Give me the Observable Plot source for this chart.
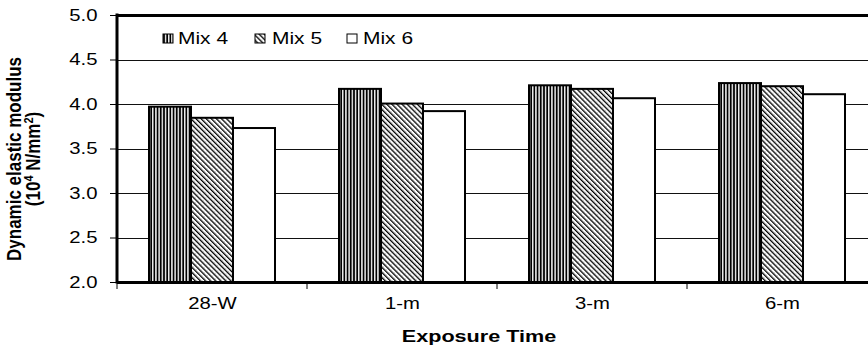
<!DOCTYPE html>
<html>
<head>
<meta charset="utf-8">
<script src="https://cdn.jsdelivr.net/npm/d3@7"></script>
<script src="https://cdn.jsdelivr.net/npm/@observablehq/plot@0.6"></script>
<style>
  html, body { margin: 0; padding: 0; background: #fff; }
  #chart { width: 868px; height: 348px; overflow: hidden; }
</style>
</head>
<body>
<div id="chart"></div>
<script>
// ---- data ----
const times = ["28-W", "1-m", "3-m", "6-m"];
const mixes = ["Mix 4", "Mix 5", "Mix 6"];
const mix4 = [3.97, 4.17, 4.21, 4.235];
const mix5 = [3.845, 4.005, 4.17, 4.2];
const mix6 = [3.73, 3.92, 4.065, 4.11];
const yTicks = [2.0, 2.5, 3.0, 3.5, 4.0, 4.5, 5.0];
const yGrid = [2.5, 3.0, 3.5, 4.0, 4.5];
const yBase = 2.0;
const yTop = 5.0;
const xTitle = "Exposure Time";
const yTitleLine1 = "Dynamic elastic modulus";
const yTitleLine2 = ["(10", "4", " N/mm", "2", ")"];

const series = [mix4, mix5, mix6];
const rows = [];
times.forEach((t, i) => mixes.forEach((m, j) => rows.push({time: t, mix: m, value: series[j][i]})));

const STRETCH = 1.27;
const FONT = "'Liberation Sans', Arial, sans-serif";

const chart = Plot.plot({
  width: 868,
  height: 348,
  marginLeft: 117,
  marginRight: -9,
  marginTop: 15,
  marginBottom: 66,
  style: {fontFamily: FONT, fontSize: "16px", color: "#000", background: "#fff", overflow: "visible"},
  facet: {data: rows, x: "time"},
  fx: {domain: times, padding: 0, axis: "bottom", tickSize: 0, tickPadding: 15, label: null},
  x: {domain: mixes, paddingInner: 0, paddingOuter: 0.744, axis: null},
  y: {domain: [yBase, yTop], ticks: yTicks, tickFormat: d => d.toFixed(1), tickSize: 7, tickPadding: 13, label: null},
  color: {domain: mixes, range: ["url(#pMix4)", "url(#pMix5)", "url(#pMix6)"]},
  marks: [
    Plot.ruleY(yGrid, {stroke: "#111", strokeWidth: 1, shapeRendering: "crispEdges"}),
    Plot.barY(rows, {x: "mix", y1: yBase, y2: "value", fill: "mix", stroke: "#000", strokeWidth: 2}),
    Plot.ruleY([yTop], {stroke: "#000", strokeWidth: 3}),
    Plot.ruleY([yBase], {stroke: "#000", strokeWidth: 3})
  ]
});

const svg = d3.select(chart.tagName.toLowerCase() === "svg" ? chart : chart.querySelector("svg"));

// stretch existing texts horizontally (reference text is horizontally widened)
svg.selectAll("text").each(function() {
  const x = +this.getAttribute("x") || 0;
  const t = this.getAttribute("transform") || "";
  this.setAttribute("transform", `${t} translate(${x},0) scale(${STRETCH},1) translate(${-x},0)`);
  this.setAttribute("fill", "#000");
});

// patterns
const defs = svg.insert("defs", ":first-child");
const p4 = defs.append("pattern").attr("id", "pMix4").attr("patternUnits", "userSpaceOnUse")
  .attr("width", 3.2).attr("height", 4);
p4.append("rect").attr("width", 3.2).attr("height", 4).attr("fill", "#fff");
p4.append("rect").attr("x", 0).attr("width", 1.6).attr("height", 4).attr("fill", "#000");
p4.append("rect").attr("x", 2.3).attr("width", 0.5).attr("height", 4).attr("fill", "#888");
const p5 = defs.append("pattern").attr("id", "pMix5").attr("patternUnits", "userSpaceOnUse")
  .attr("width", 3.6).attr("height", 4).attr("patternTransform", "rotate(-45)");
p5.append("rect").attr("width", 3.6).attr("height", 4).attr("fill", "#fff");
p5.append("rect").attr("x", 0).attr("width", 1.3).attr("height", 4).attr("fill", "#000");
p5.append("rect").attr("x", 2.2).attr("y", 1).attr("width", 0.6).attr("height", 0.6).attr("fill", "#888");
const p6 = defs.append("pattern").attr("id", "pMix6").attr("patternUnits", "userSpaceOnUse")
  .attr("width", 4).attr("height", 4);
p6.append("rect").attr("width", 4).attr("height", 4).attr("fill", "#fff");

// axis line and category boundary ticks from the library's scales
const fxS = chart.scale("fx");
const yS = chart.scale("y");
const x0 = fxS.apply(times[0]);
const bw = fxS.bandwidth;
const over = svg.append("g");
over.append("line").attr("x1", x0).attr("x2", x0)
  .attr("y1", yS.apply(yTop) - 1.5).attr("y2", yS.apply(yBase) + 1.5)
  .attr("stroke", "#000").attr("stroke-width", 3);
const bounds = times.map(t => fxS.apply(t)).concat([fxS.apply(times[times.length - 1]) + bw]);
bounds.forEach(b => {
  over.append("line").attr("x1", b).attr("x2", b)
    .attr("y1", yS.apply(yBase)).attr("y2", yS.apply(yBase) + 7)
    .attr("stroke", "#000").attr("stroke-width", 1);
});

// legend inside plot area
const legendPos = [{sx: 163, tx: 178}, {sx: 255, tx: 272}, {sx: 347, tx: 363}];
const lg = svg.append("g").attr("font-family", FONT).attr("font-size", 16.5).attr("text-anchor", "start");
mixes.forEach((m, i) => {
  lg.append("rect").attr("x", legendPos[i].sx).attr("y", 34).attr("width", 10).attr("height", 9)
    .attr("fill", `url(#pMix${4 + i})`).attr("stroke", "#000").attr("stroke-width", 1);
  lg.append("text").attr("transform", `translate(${legendPos[i].tx},44) scale(${STRETCH},1)`)
    .attr("text-anchor", "start").attr("fill", "#000").text(m);
});

// axis titles
svg.append("text").attr("transform", `translate(479,342) scale(${STRETCH},1)`)
  .attr("text-anchor", "middle").attr("font-family", FONT).attr("font-weight", "bold")
  .attr("font-size", 17).attr("fill", "#000").text(xTitle);

svg.append("text").attr("transform", `translate(21,159) scale(1.2,1) rotate(-90)`)
  .attr("text-anchor", "middle").attr("font-family", FONT).attr("font-weight", "bold")
  .attr("font-size", 17).attr("fill", "#000").text(yTitleLine1);
const t2 = svg.append("text").attr("transform", `translate(40,159) scale(1.2,1) rotate(-90)`)
  .attr("text-anchor", "middle").attr("font-family", FONT).attr("font-weight", "bold")
  .attr("font-size", 17).attr("fill", "#000");
t2.append("tspan").text(yTitleLine2[0]);
t2.append("tspan").attr("dy", -6).attr("font-size", 11).text(yTitleLine2[1]);
t2.append("tspan").attr("dy", 6).text(yTitleLine2[2]);
t2.append("tspan").attr("dy", -6).attr("font-size", 11).text(yTitleLine2[3]);
t2.append("tspan").attr("dy", 6).text(yTitleLine2[4]);

document.getElementById("chart").appendChild(chart);
</script>
</body>
</html>
